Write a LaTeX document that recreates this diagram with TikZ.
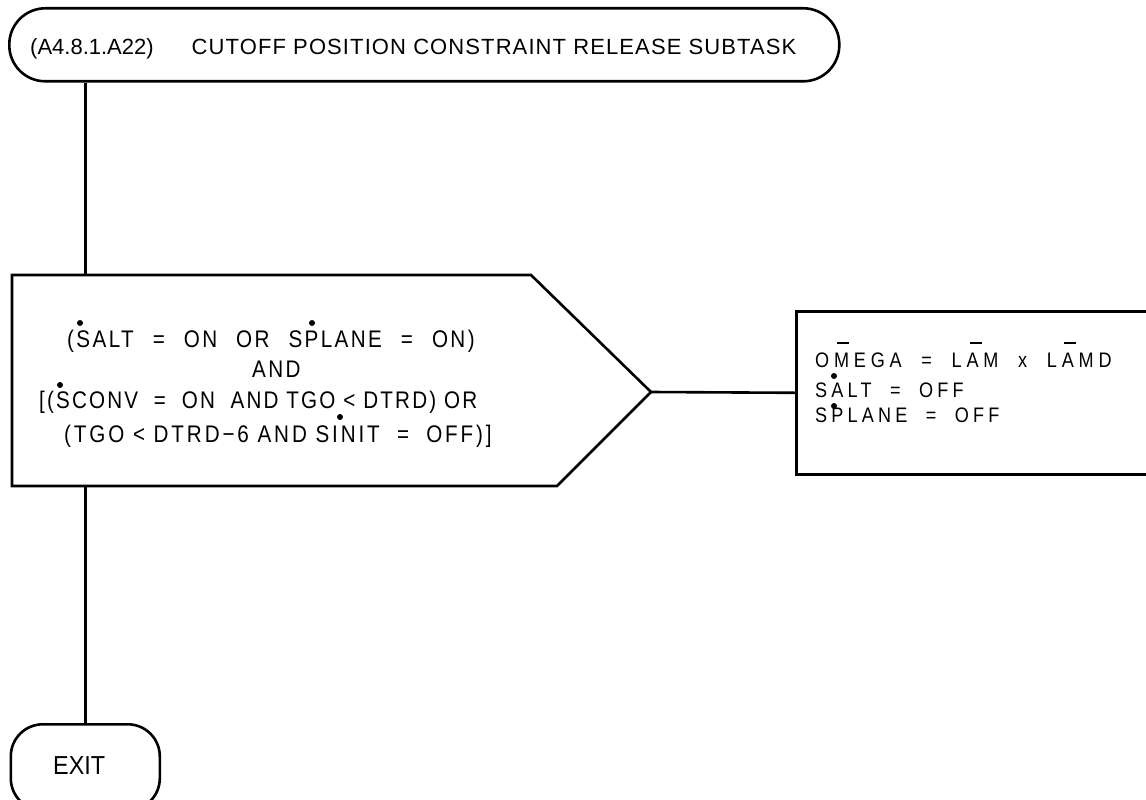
\documentclass[tikz,border=0pt]{standalone}
\usepackage{fontspec}
\setmainfont{Liberation Sans}
\newfontfamily\hfonta{Liberation Sans}
\newfontfamily\hfontb{Liberation Sans}[LetterSpace=5]
\newfontfamily\dfont{Liberation Sans}[FakeStretch=0.86,LetterSpace=10]
\newfontfamily\dfontn{Liberation Sans}[FakeStretch=0.86,LetterSpace=9]
\newfontfamily\dfontw{Liberation Sans}[FakeStretch=0.86,LetterSpace=12]
\newfontfamily\afont{Liberation Sans}[FakeStretch=0.86,LetterSpace=20]
\newfontfamily\afontw{Liberation Sans}[FakeStretch=0.86,LetterSpace=23]
\newfontfamily\efont{Liberation Sans}[FakeStretch=0.9]
\newcommand\gap[1]{\hspace{#1pt}}
\begin{document}
\begin{tikzpicture}[x=1pt,y=-1pt,
  box/.style={draw,line width=2.6pt,line join=miter},
  term/.style={box,rectangle,inner sep=0pt},
  txt/.style={inner sep=0pt,anchor=base west},
  dotm/.style={fill=black},
  barm/.style={draw,line width=2pt}]
\useasboundingbox (0,0) rectangle (1146,800);
% header terminator
\node[term,rounded corners=36pt,anchor=north west,minimum width=830pt,minimum height=73pt] (hdr) at (8,7) {};
\node[txt] (htext) at (30,55) {\fontsize{22}{26}\selectfont\hfonta (A4.8.1.A22)\gap{38}\hfontb CUTOFF POSITION CONSTRAINT RELEASE SUBTASK};
% exit terminator
\node[term,rounded corners=32pt,anchor=north west,minimum width=149pt,minimum height=86pt] (exit) at (9.5,723) {};
\node[txt] (etext) at (53,774) {\efont\fontsize{26}{30}\selectfont EXIT};
% decision
\coordinate (dtl) at (12,275);
\coordinate (dtr) at (531,275);
\coordinate (dtip) at (651,392);
\coordinate (dbr) at (557,486);
\coordinate (dbl) at (12,486);
\draw[box] (dtl) -- (dtr) -- (dtip) -- (dbr) -- (dbl) -- cycle;
\node[txt] (d1) at (67,347) {\dfont\fontsize{24}{26}\selectfont (SALT\gap{19}=\gap{19}ON\gap{19}OR\gap{19}SPLANE\gap{19}=\gap{19}ON)};
\node[txt] (d2) at (252,377) {\dfont\fontsize{24}{26}\selectfont AND};
\node[txt] (d3) at (39,408) {\dfontn\fontsize{24}{26}\selectfont [(SCONV\ \ =\ \ ON\ \ AND TGO < DTRD) OR};
\node[txt] (d4) at (64,442) {\dfontw\fontsize{24}{26}\selectfont (TGO < DTRD−6 AND SINIT\ \ =\ \ OFF)]};
\fill[dotm] (80,323) circle (3);
\fill[dotm] (312,323) circle (3);
\fill[dotm] (60,385) circle (3);
\fill[dotm] (340,417) circle (3);
% action box
\node[box,rectangle,anchor=north west,minimum width=360pt,minimum height=163pt,inner sep=0pt] (act) at (795,310) {};
\node[txt] (a1) at (815,367) {\afontw\fontsize{21}{24}\selectfont OMEGA\ \ =\ \ LAM\ \ x\ \ LAMD};
\node[txt] (a2) at (815,397) {\afont\fontsize{21}{24}\selectfont SALT\ \ =\ \ OFF};
\node[txt] (a3) at (815,422) {\afont\fontsize{21}{24}\selectfont SPLANE\ \ =\ \ OFF};
\fill[dotm] (834,376) circle (3);
\fill[dotm] (834,406) circle (3);
\draw[barm] (837,343) -- (849,343);
\draw[barm] (970,343) -- (982,343);
\draw[barm] (1064,343) -- (1076,343);
% connectors
\draw[box] (hdr.south -| exit.north) -- (dtl -| exit.north);
\draw[box] (dbl -| exit.north) -- (exit.north);
\draw[box] (dtip) -- (act.west);
\end{tikzpicture}
\end{document}
